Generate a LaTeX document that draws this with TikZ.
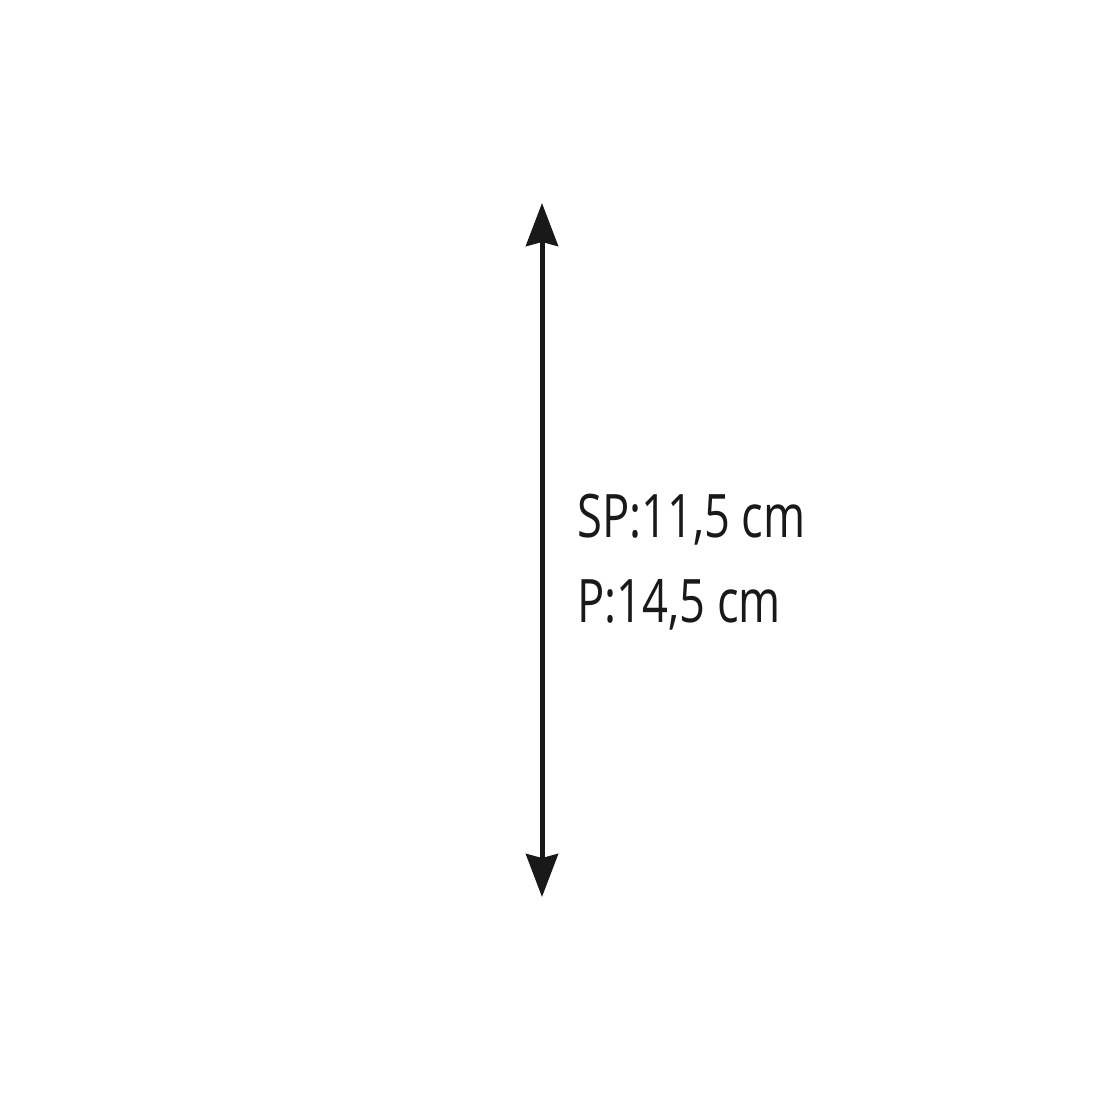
\documentclass[tikz,border=0pt]{standalone}
\usepackage{fontspec}
\setmainfont{Open Sans}
\usetikzlibrary{arrows.meta}
\tikzset{
  dimline/.style={line width=5pt, draw=black!90, {Stealth[length=43pt,width=32pt,inset=4pt]}-{Stealth[length=43pt,width=32pt,inset=4pt]}},
  lbl/.style={anchor=base west, inner sep=0pt, text=black!90, font=\fontsize{60}{72}\selectfont}
}
\begin{document}
\begin{tikzpicture}[x=1pt,y=-1pt]
\useasboundingbox (0,0) rectangle (1100,1100);
\coordinate (top) at (542,203);
\coordinate (bot) at (542,897);
\draw[dimline] (top) -- (bot);
\node[lbl] (sp) at (577,537) {\scalebox{0.755}[1]{SP:11,5 cm}};
\node[lbl] (p) at (577,622) {\scalebox{0.755}[1]{P:14,5 cm}};
\end{tikzpicture}
\end{document}
